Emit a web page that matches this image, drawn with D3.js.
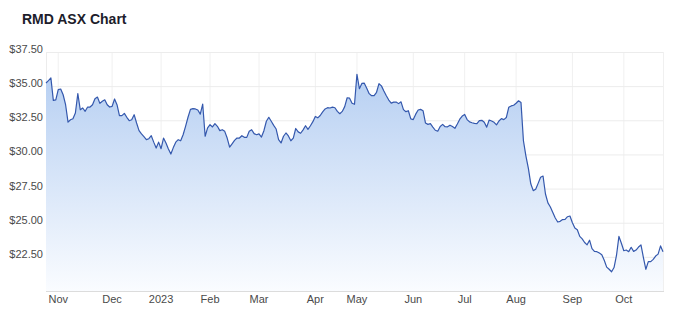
<!DOCTYPE html>
<html>
<head>
<meta charset="utf-8">
<script src="https://cdn.jsdelivr.net/npm/d3@7"></script>
<style>
  body { margin: 0; background: #fff; font-family: "Liberation Sans", Arial, sans-serif; }
  svg { display: block; }
</style>
</head>
<body>
<svg width="683" height="318"></svg>
<script>
const svg = d3.select("svg");

// ASX trading days, 25 Oct 2022 - 24 Oct 2023
const startDate = "2022-10-25";
const endDate = "2023-10-24";
const holidays = ["2022-12-26", "2022-12-27", "2023-01-02", "2023-01-26", "2023-04-07",
  "2023-04-10", "2023-04-25", "2023-06-12"];

// closing price, one per trading day
const prices = [
  35.23, 35.4, 35.6, 33.96, 34.0, 34.74, 34.79, 34.37, 33.64, 32.37,
  32.54, 32.61, 33.03, 34.45, 33.27, 33.4, 33.16, 33.47, 33.47, 33.64,
  34.08, 34.2, 33.74, 33.89, 34.0, 33.64, 33.47, 33.52, 34.06, 33.64,
  32.84, 32.84, 33.01, 32.72, 32.47, 32.54, 32.91, 32.3, 31.74, 31.5,
  31.3, 31.08, 31.15, 31.37, 30.9, 30.47, 30.9, 30.42, 31.2, 30.84,
  30.4, 30.03, 30.5, 30.9, 31.08, 31.0, 31.44, 32.06, 32.72, 33.3,
  33.35, 33.33, 33.25, 32.95, 33.69, 31.33, 31.94, 32.18, 32.01, 32.25,
  32.06, 31.74, 31.81, 31.69, 31.2, 30.54, 30.78, 31.03, 31.2, 31.2,
  31.37, 31.25, 31.25, 31.69, 31.81, 31.52, 31.44, 31.5, 31.27, 31.74,
  32.43, 32.72, 32.43, 32.13, 31.86, 31.08, 30.84, 31.33, 31.57, 31.35,
  31.0, 31.2, 31.9, 31.65, 31.55, 31.8, 32.1, 31.84, 32.1, 32.4,
  32.78, 32.68, 32.85, 33.12, 33.33, 33.42, 33.4, 33.46, 33.42, 33.15,
  32.98, 33.15, 33.5, 34.15, 34.12, 33.75, 33.67, 35.87, 34.81, 35.2,
  35.22, 34.85, 34.45, 34.3, 34.3, 34.55, 35.18, 35.02, 34.65, 34.3,
  33.98, 33.76, 33.83, 33.84, 33.72, 33.85, 33.28, 33.13, 33.2, 32.6,
  32.55, 32.95, 33.25, 33.3, 33.2, 32.3, 32.2, 32.25, 32.0, 31.77,
  31.7, 32.05, 32.2, 32.03, 32.02, 32.14, 32.04, 31.91, 32.23, 32.58,
  32.81, 32.93, 32.55, 32.38, 32.32, 32.27, 32.25, 32.48, 32.5, 32.35,
  32.0, 32.52, 32.45, 32.35, 32.16, 32.45, 32.62, 32.55, 32.7, 33.45,
  33.55, 33.6, 33.75, 33.93, 33.8, 31.0, 29.9, 29.0, 27.85, 27.35,
  27.45, 27.88, 28.33, 28.42, 27.1, 26.45, 26.15, 25.75, 25.35, 25.05,
  25.1, 25.23, 25.25, 25.44, 25.49, 25.0, 24.62, 24.48, 24.0, 23.82,
  23.55, 23.38, 23.72, 23.1, 22.9, 22.88, 22.78, 22.66, 22.25, 21.75,
  21.59, 21.41, 21.72, 22.6, 24.0, 23.5, 22.95, 23.0, 22.88, 23.2,
  22.9, 23.0, 23.22, 23.37, 22.45, 21.59, 22.15, 22.15, 22.32, 22.56,
  22.7, 23.3, 22.88
];

const yTicks = [22.5, 25, 27.5, 30, 32.5, 35, 37.5];

const parse = d3.timeParse("%Y-%m-%d");
const fmt = d3.timeFormat("%Y-%m-%d");
const holidaySet = new Set(holidays);
const dates = d3.timeDay.range(parse(startDate), d3.timeDay.offset(parse(endDate), 1))
  .filter(d => d.getDay() !== 0 && d.getDay() !== 6 && !holidaySet.has(fmt(d)));

const data = prices.map((p, i) => ({ i, date: dates[i], price: p }));

const plotLeft = 46, plotRight = 663, plotTop = 52, plotBottom = 291;

const x = d3.scaleLinear().domain([0, data.length - 1]).range([plotLeft, plotRight]);
const y = d3.scaleLinear().domain([20, 37.5]).range([plotBottom, plotTop]);

// first trading day of each month
const monthTicks = data.filter((d, k) => k > 0 && d.date.getMonth() !== data[k - 1].date.getMonth());

// title
svg.append("text")
  .attr("x", 22)
  .attr("y", 24)
  .attr("font-size", 14)
  .attr("font-weight", "bold")
  .attr("fill", "#1d1d2b")
  .text("RMD ASX Chart");

// gradient
const grad = svg.append("defs").append("linearGradient")
  .attr("id", "fillGrad")
  .attr("gradientUnits", "userSpaceOnUse")
  .attr("x1", 0).attr("x2", 0)
  .attr("y1", y(36)).attr("y2", plotBottom);
grad.append("stop").attr("offset", "0%").attr("stop-color", "#b6cff2");
grad.append("stop").attr("offset", "100%").attr("stop-color", "#fafcff");

// grid
svg.append("g")
  .selectAll("line")
  .data(monthTicks)
  .join("line")
  .attr("x1", d => x(d.i)).attr("x2", d => x(d.i))
  .attr("y1", plotTop).attr("y2", plotBottom)
  .attr("stroke", "#f0f0f0");

svg.append("g")
  .selectAll("line")
  .data(yTicks)
  .join("line")
  .attr("x1", plotLeft).attr("x2", plotRight + 1)
  .attr("y1", d => y(d) + 0.5).attr("y2", d => y(d) + 0.5)
  .attr("stroke", "#ececec");

// plot edges
svg.append("line").attr("x1", plotLeft + 0.5).attr("x2", plotLeft + 0.5)
  .attr("y1", plotTop).attr("y2", plotBottom).attr("stroke", "#ececec");
svg.append("line").attr("x1", plotRight + 0.5).attr("x2", plotRight + 0.5)
  .attr("y1", plotTop).attr("y2", plotBottom).attr("stroke", "#f0f0f0");

// area + line
svg.append("path")
  .datum(data)
  .attr("fill", "url(#fillGrad)")
  .attr("d", d3.area().x(d => x(d.i)).y0(plotBottom).y1(d => y(d.price)));

svg.append("path")
  .datum(data)
  .attr("fill", "none")
  .attr("stroke", "#3458ad")
  .attr("stroke-width", 1.2)
  .attr("stroke-linejoin", "round")
  .attr("d", d3.line().x(d => x(d.i)).y(d => y(d.price)));

// bottom axis line
svg.append("line").attr("x1", plotLeft).attr("x2", plotRight + 1)
  .attr("y1", plotBottom + 0.5).attr("y2", plotBottom + 0.5).attr("stroke", "#dcdcdc");

// y labels
svg.append("g")
  .selectAll("text")
  .data(yTicks)
  .join("text")
  .attr("x", 43)
  .attr("y", d => y(d) + 1)
  .attr("text-anchor", "end")
  .attr("font-size", 11)
  .attr("fill", "#4a4a4a")
  .text(d => "$" + d3.format(".2f")(d));

// x labels
svg.append("g")
  .selectAll("text")
  .data(monthTicks)
  .join("text")
  .attr("x", d => x(d.i))
  .attr("y", 303)
  .attr("text-anchor", "middle")
  .attr("font-size", 11)
  .attr("fill", "#4a4a4a")
  .text(d => d.date.getMonth() === 0 ? d3.timeFormat("%Y")(d.date) : d3.timeFormat("%b")(d.date));
</script>
</body>
</html>
